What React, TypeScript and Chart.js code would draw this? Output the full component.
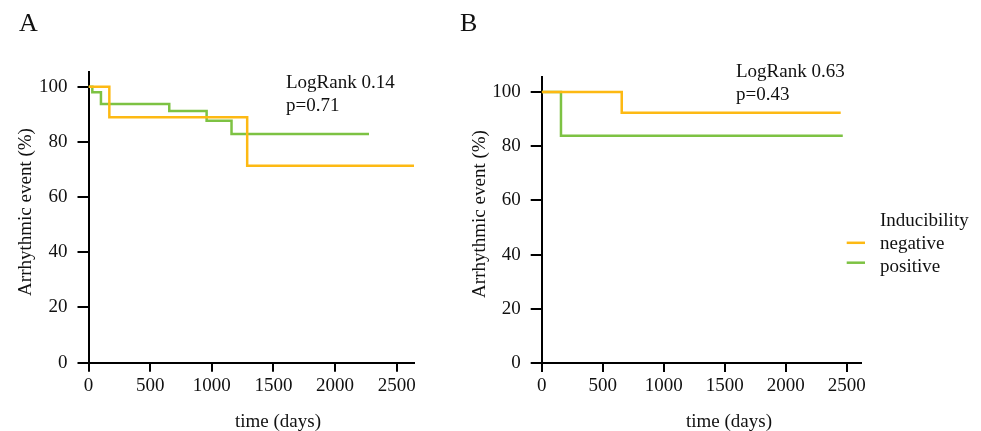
import React, { useEffect, useRef } from "react";
import { Chart, registerables } from "chart.js";

Chart.register(...registerables);

const FONT = "'Liberation Serif', 'Times New Roman', serif";
const ORANGE = "#FDB913";
const GREEN = "#7DC243";
const INK = "#111111";

// ---- data ----
const xTicks = [0, 500, 1000, 1500, 2000, 2500];
const yTicks = [0, 20, 40, 60, 80, 100];
const seriesLabels = ["negative", "positive"];
const legendTitle = "Inducibility";
const xTitle = "time (days)";
const yTitle = "Arrhythmic event (%)";

const aNegDays = [0, 169, 1287, 2640];
const aNegPct = [100, 88.9, 71.3, 71.3];
const aPosDays = [0, 31, 101, 655, 958, 1160, 2275];
const aPosPct = [100, 98.0, 93.7, 91.2, 87.6, 82.8, 82.8];

const bNegDays = [0, 656, 2451];
const bNegPct = [100, 92.3, 92.3];
const bPosDays = [0, 158, 2468];
const bPosPct = [100, 83.8, 83.8];

const aStats = ["LogRank 0.14", "p=0.71"];
const bStats = ["LogRank 0.63", "p=0.43"];

type PanelCfg = {
  letter: string;
  width: number;
  negDays: number[];
  negPct: number[];
  posDays: number[];
  posPct: number[];
  stats: string[];
  xMax: number;
  yMax: number;
  area: { left: number; top: number; right: number; bottom: number };
  letterPos: [number, number];
  statX: number;
  statY: number[];
  xTitlePos: [number, number];
  yTitlePos: [number, number];
  legend: boolean;
};

const H = 431;
const TEXT_SIZE = 19;

const panelA: PanelCfg = {
  letter: "A",
  width: 440,
  negDays: aNegDays,
  negPct: aNegPct,
  posDays: aPosDays,
  posPct: aPosPct,
  stats: aStats,
  xMax: 2640,
  yMax: 105.3,
  area: { left: 88.5, top: 72, right: 414, bottom: 362.7 },
  letterPos: [19, 24],
  statX: 286,
  statY: [83, 106],
  xTitlePos: [278, 422],
  yTitlePos: [26, 212],
  legend: false,
};

const panelB: PanelCfg = {
  letter: "B",
  width: 541,
  negDays: bNegDays,
  negPct: bNegPct,
  posDays: bPosDays,
  posPct: bPosPct,
  stats: bStats,
  xMax: 2615,
  yMax: 105.5,
  area: { left: 101.7, top: 77, right: 420.7, bottom: 363 },
  letterPos: [20, 24],
  statX: 296,
  statY: [72, 95],
  xTitlePos: [289, 422],
  yTitlePos: [40, 214],
  legend: true,
};

function makeTextPlugin(cfg: PanelCfg) {
  return {
    id: "panelTexts",
    afterDraw(chart: any) {
      const ctx = chart.ctx as CanvasRenderingContext2D;
      ctx.save();
      ctx.fillStyle = INK;
      ctx.textBaseline = "middle";
      ctx.textAlign = "left";
      ctx.font = `26px ${FONT}`;
      ctx.fillText(cfg.letter, cfg.letterPos[0], cfg.letterPos[1]);
      ctx.font = `${TEXT_SIZE}px ${FONT}`;
      cfg.stats.forEach((s, i) => ctx.fillText(s, cfg.statX, cfg.statY[i]));
      ctx.textAlign = "center";
      ctx.fillText(xTitle, cfg.xTitlePos[0], cfg.xTitlePos[1]);
      ctx.save();
      ctx.translate(cfg.yTitlePos[0], cfg.yTitlePos[1]);
      ctx.rotate(-Math.PI / 2);
      ctx.fillText(yTitle, 0, 0);
      ctx.restore();

      if (cfg.legend) {
        ctx.textAlign = "left";
        ctx.fillText(legendTitle, 440, 221.5);
        const rows = [244.3, 266.7];
        chart.data.datasets.forEach((ds: any, i: number) => {
          ctx.fillStyle = INK;
          ctx.fillText(ds.label, 440, rows[i]);
          ctx.strokeStyle = ds.borderColor;
          ctx.lineWidth = 2.5;
          ctx.beginPath();
          ctx.moveTo(406.7, rows[i] - 1.5 - i * 2.5);
          ctx.lineTo(425, rows[i] - 1.5 - i * 2.5);
          ctx.stroke();
        });
      }
      ctx.restore();
    },
  };
}

function Panel({ cfg, left }: { cfg: PanelCfg; left: number }) {
  const ref = useRef<HTMLCanvasElement | null>(null);

  useEffect(() => {
    if (!ref.current) return;
    const tickFont = { family: FONT, size: TEXT_SIZE };
    const toPts = (d: number[], p: number[]) => d.map((x, i) => ({ x, y: p[i] }));
    const chart = new Chart(ref.current, {
      type: "line",
      data: {
        datasets: [
          {
            label: seriesLabels[0],
            data: toPts(cfg.negDays, cfg.negPct),
            borderColor: ORANGE,
            backgroundColor: ORANGE,
            borderWidth: 2.5,
            pointRadius: 0,
            stepped: true,
            fill: false,
          },
          {
            label: seriesLabels[1],
            data: toPts(cfg.posDays, cfg.posPct),
            borderColor: GREEN,
            backgroundColor: GREEN,
            borderWidth: 2.5,
            pointRadius: 0,
            stepped: true,
            fill: false,
          },
        ],
      },
      options: {
        responsive: false,
        animation: false,
        devicePixelRatio: 1,
        layout: {
          padding: {
            left: 0,
            top: cfg.area.top,
            right: cfg.width - cfg.area.right,
            bottom: 0,
          },
        },
        plugins: {
          legend: { display: false },
          tooltip: { enabled: false },
        },
        scales: {
          x: {
            type: "linear",
            min: 0,
            max: cfg.xMax,
            afterBuildTicks: (s: any) => {
              s.ticks = xTicks.map((v) => ({ value: v }));
            },
            afterFit: (s: any) => {
              s.height = H - cfg.area.bottom;
            },
            ticks: {
              font: tickFont,
              color: INK,
              padding: 3,
              maxRotation: 0,
              autoSkip: false,
              callback: (v: any) => String(v),
            },
            grid: {
              display: true,
              drawOnChartArea: false,
              drawTicks: true,
              tickLength: 9,
              color: "#000",
              lineWidth: 2,
            },
            border: { display: true, color: "#000", width: 2 },
          },
          y: {
            type: "linear",
            min: 0,
            max: cfg.yMax,
            afterBuildTicks: (s: any) => {
              s.ticks = yTicks.map((v) => ({ value: v }));
            },
            afterFit: (s: any) => {
              s.width = cfg.area.left;
            },
            ticks: {
              font: tickFont,
              color: INK,
              padding: 10,
              autoSkip: false,
              callback: (v: any) => String(v),
            },
            grid: {
              display: true,
              drawOnChartArea: false,
              drawTicks: true,
              tickLength: 11,
              color: "#000",
              lineWidth: 2,
            },
            border: { display: true, color: "#000", width: 2 },
          },
        },
      } as any,
      plugins: [makeTextPlugin(cfg) as any],
    });
    return () => chart.destroy();
  }, [cfg]);

  return (
    <canvas
      ref={ref}
      width={cfg.width}
      height={H}
      style={{ position: "absolute", left, top: 0, width: cfg.width, height: H }}
    />
  );
}

export default function App() {
  return (
    <div
      style={{
        position: "fixed",
        left: 0,
        top: 0,
        width: 981,
        height: H,
        background: "#fff",
        overflow: "hidden",
      }}
    >
      <Panel cfg={panelA} left={0} />
      <Panel cfg={panelB} left={440} />
    </div>
  );
}
